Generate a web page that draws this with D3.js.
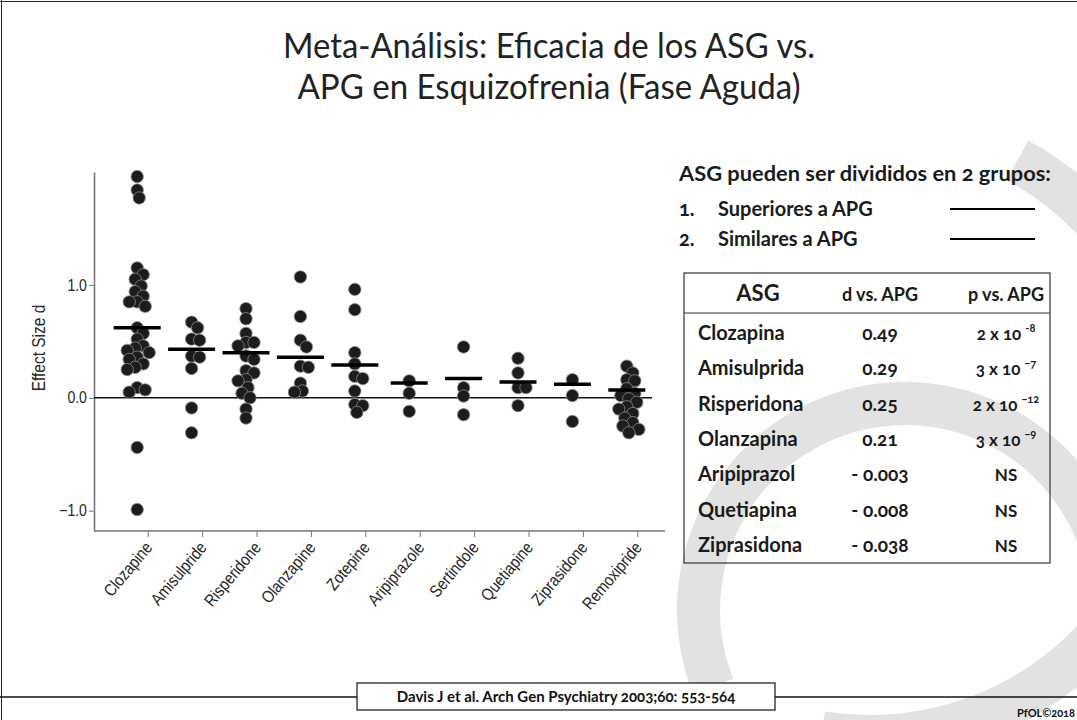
<!DOCTYPE html>
<html>
<head>
<meta charset="utf-8">
<script src="https://cdn.jsdelivr.net/npm/d3@7"></script>
<style>
  body { margin: 0; background: #fff; }
  svg { display: block; font-family: Lato, "Open Sans", sans-serif; font-variant-numeric: oldstyle-nums; }
  .eje text, text.eje { font-family: "Liberation Sans", Arial, sans-serif; font-variant-numeric: normal; fill: #262626; }
  .eje line, .eje path { stroke: #777; }
</style>
</head>
<body>
<svg id="slide" width="1077" height="720"></svg>
<script>
// datos (Davis 2003)
const farmacos = ["Clozapine", "Amisulpride", "Risperidone", "Olanzapine", "Zotepine",
                  "Aripiprazole", "Sertindole", "Quetiapine", "Ziprasidone", "Remoxipride"];
const grupo = [1, 1, 1, 1, 1, 2, 2, 2, 2, 2];

const clozapine = [1.96, 1.84, 1.77, 1.15, 1.09, 1.05, 0.99, 0.94, 0.90, 0.85, 0.85, 0.81,
                   0.62, 0.57, 0.52, 0.46, 0.44, 0.42, 0.40, 0.36, 0.34, 0.30, 0.27, 0.25,
                   0.09, 0.07, 0.05, -0.44, -0.99];
const amisulpride = [0.67, 0.62, 0.52, 0.51, 0.37, 0.36, 0.26, -0.09, -0.31];
const risperidone = [0.79, 0.70, 0.57, 0.49, 0.49, 0.46, 0.37, 0.34, 0.24, 0.22, 0.16, 0.15,
                     0.09, 0.04, 0.0, -0.10, -0.18];
const olanzapine = [1.07, 0.72, 0.51, 0.45, 0.28, 0.27, 0.13, 0.06, 0.05];
const zotepine = [0.96, 0.78, 0.40, 0.30, 0.19, 0.17, 0.06, -0.06, -0.07, -0.13];
const aripiprazole = [0.15, 0.04, -0.12];
const sertindole = [0.45, 0.09, 0.015, -0.15];
const quetiapine = [0.35, 0.22, 0.09, 0.09, -0.07];
const ziprasidone = [0.16, 0.02, -0.21];
const remoxipride = [0.28, 0.22, 0.16, 0.15, 0.08, 0.04, 0.02, -0.01, -0.04, -0.08, -0.10,
                     -0.14, -0.18, -0.22, -0.25, -0.28, -0.31];
const efectos = [clozapine, amisulpride, risperidone, olanzapine, zotepine,
                 aripiprazole, sertindole, quetiapine, ziprasidone, remoxipride];
const medias = [0.62, 0.43, 0.40, 0.36, 0.29, 0.13, 0.17, 0.14, 0.12, 0.07];
const yTicks = [-1, 0, 1];

const tablaCab = ["ASG", "d vs. APG", "p vs. APG"];
const tablaASG = ["Clozapina", "Amisulprida", "Risperidona", "Olanzapina", "Aripiprazol", "Quetiapina", "Ziprasidona"];
const tablaD = ["0.49", "0.29", "0.25", "0.21", "- 0.003", "- 0.008", "- 0.038"];
const tablaP = ["2 x 10", "3 x 10", "2 x 10", "3 x 10", "NS", "NS", "NS"];
const tablaExp = ["-8", "\u22127", "\u221212", "\u22129", "", "", ""];

const svg = d3.select("#slide");
svg.append("rect").attr("width", 1077).attr("height", 720).attr("fill", "#fff");

// marca de agua (C gris)
const wm = svg.append("g").attr("fill", "#e2e2e2");
wm.append("path")
  .attr("transform", "translate(905,610)")
  .attr("d", d3.arc()({innerRadius: 185, outerRadius: 228, startAngle: -1.95, endAngle: 2.0}));
wm.append("path")
  .attr("transform", "translate(870,430)")
  .attr("d", d3.arc()({innerRadius: 285, outerRadius: 330, startAngle: 0.5, endAngle: 3.3}));

// marco de la diapositiva
svg.append("line").attr("x1", 1.5).attr("x2", 1.5).attr("y1", 0).attr("y2", 720).attr("stroke", "#222");
svg.append("line").attr("x1", 0).attr("x2", 1077).attr("y1", 1.5).attr("y2", 1.5).attr("stroke", "#222");

// titulo
const titulo = svg.append("text").attr("text-anchor", "middle").attr("fill", "#222")
  .attr("font-size", 35);
titulo.append("tspan").attr("x", 549).attr("y", 58)
  .attr("textLength", 532).attr("lengthAdjust", "spacingAndGlyphs")
  .text("Meta-Análisis: Eficacia de los ASG vs.");
titulo.append("tspan").attr("x", 549).attr("y", 99)
  .attr("textLength", 503).attr("lengthAdjust", "spacingAndGlyphs")
  .text("APG en Esquizofrenia (Fase Aguda)");

// grafico
const y = d3.scaleLinear().domain([-1.18, 2.0]).range([531, 172]);
const x = d3.scaleBand().domain(farmacos).range([121, 665]);
const centro = d => x(d) + x.bandwidth() / 2 - 11;

const ejeY = svg.append("g").attr("class", "eje").attr("transform", "translate(94,0)")
  .call(d3.axisLeft(y).tickValues(yTicks).tickFormat(d3.format(".1f")).tickSize(5).tickSizeOuter(0));
ejeY.selectAll("text").attr("font-size", 16).attr("transform", "scale(0.88,1)");
ejeY.select(".domain").attr("stroke-width", 1.6);

const ejeX = svg.append("g").attr("class", "eje").attr("transform", "translate(0,531)")
  .call(d3.axisBottom(x).tickSize(6).tickSizeOuter(0));
ejeX.select(".domain").remove();
ejeX.append("line").attr("x1", 94).attr("x2", 665).attr("stroke", "#777").attr("stroke-width", 1.6);
ejeX.selectAll("text")
  .attr("font-size", 17)
  .attr("x", 0).attr("y", 0).attr("dy", 0)
  .attr("text-anchor", "end")
  .attr("transform", "translate(5,17) rotate(-50) scale(0.86,1)");

svg.append("text").attr("class", "eje")
  .attr("transform", "translate(45,348) rotate(-90) scale(0.86,1)")
  .attr("text-anchor", "middle")
  .attr("font-size", 18)
  .text("Effect Size d");

// linea del cero
svg.append("line").attr("x1", 94).attr("x2", 652).attr("y1", y(0)).attr("y2", y(0))
  .attr("stroke", "#111").attr("stroke-width", 1.6);

// puntos tipo enjambre
function enjambre(vals) {
  const puestos = [];
  return vals.slice().sort((a, b) => b - a).map(v => {
    const py = y(v);
    let off = 0;
    for (let k = 0; k <= 7; k++) {
      const cands = k === 0 ? [0] : [k * 2, -k * 2];
      const ok = cands.find(c => puestos.every(p => Math.hypot(p.dx - c, p.py - py) >= 8));
      if (ok !== undefined) { off = ok; break; }
      off = cands[0];
    }
    const p = {v, py, dx: off};
    puestos.push(p);
    return p;
  });
}

farmacos.forEach((f, i) => {
  svg.append("g").selectAll("circle")
    .data(enjambre(efectos[i]))
    .enter().append("circle")
    .attr("cx", d => centro(f) + d.dx)
    .attr("cy", d => y(d.v))
    .attr("r", 6.2)
    .attr("fill", "#1c1c1c")
    .attr("stroke", "#8a8a8a")
    .attr("stroke-width", 0.8);
});

svg.append("g").selectAll("line")
  .data(farmacos)
  .enter().append("line")
  .attr("x1", (d, i) => centro(d) - (grupo[i] === 1 ? 23.5 : 18.5))
  .attr("x2", (d, i) => centro(d) + (grupo[i] === 1 ? 23.5 : 18.5))
  .attr("y1", (d, i) => y(medias[i]))
  .attr("y2", (d, i) => y(medias[i]))
  .attr("stroke", "#000")
  .attr("stroke-width", 3.5);

// leyenda
const ley = svg.append("g").attr("font-weight", "bold").attr("fill", "#1a1a1a").attr("font-size", 20);
ley.append("text").attr("x", 679).attr("y", 181).attr("textLength", 372).attr("lengthAdjust", "spacingAndGlyphs")
  .text("ASG pueden ser divididos en 2 grupos:");
["Superiores a APG", "Similares a APG"].forEach((t, i) => {
  const yy = 216 + i * 30;
  ley.append("text").attr("x", 679).attr("y", yy).text((i + 1) + ".");
  ley.append("text").attr("x", 718).attr("y", yy).text(t);
  ley.append("line").attr("x1", 950).attr("x2", 1035).attr("y1", yy - 7).attr("y2", yy - 7)
    .attr("stroke", "#000").attr("stroke-width", 2);
});

// tabla
const tb = svg.append("g").attr("font-weight", "bold").attr("fill", "#1a1a1a");
tb.append("rect").attr("x", 684).attr("y", 273).attr("width", 366).attr("height", 290)
  .attr("fill", "none").attr("stroke", "#333").attr("stroke-width", 1.2);
tb.append("line").attr("x1", 684).attr("x2", 1050).attr("y1", 313).attr("y2", 313)
  .attr("stroke", "#333").attr("stroke-width", 1.2);
const colX = [758, 880, 1006];
tablaCab.forEach((t, i) => {
  tb.append("text").attr("x", colX[i]).attr("y", 301).attr("text-anchor", "middle")
    .attr("font-size", i === 0 ? 22 : 18).text(t);
});
tablaASG.forEach((t, i) => {
  const yy = 340 + i * 35.3;
  tb.append("text").attr("x", 698).attr("y", yy).attr("font-size", 20).text(t);
  tb.append("text").attr("x", 880).attr("y", yy).attr("text-anchor", "middle").attr("font-size", 19).text(tablaD[i]);
  const p = tb.append("text").attr("x", 1006).attr("y", yy).attr("text-anchor", "middle").attr("font-size", 17);
  p.append("tspan").text(tablaP[i]);
  if (tablaExp[i]) p.append("tspan").attr("dx", 4).attr("dy", -8).attr("font-size", 11).text(tablaExp[i]);
});

// pie
svg.append("line").attr("x1", 0).attr("x2", 1077).attr("y1", 697).attr("y2", 697).attr("stroke", "#111").attr("stroke-width", 1.5);
svg.append("rect").attr("x", 357).attr("y", 683).attr("width", 418).attr("height", 27)
  .attr("fill", "#fff").attr("stroke", "#111").attr("stroke-width", 1.2);
svg.append("text").attr("x", 566).attr("y", 702).attr("text-anchor", "middle")
  .attr("font-weight", "bold").attr("font-size", 15).attr("fill", "#111")
  .text("Davis J et al. Arch Gen Psychiatry 2003;60: 553-564");
svg.append("text").attr("x", 1075).attr("y", 717).attr("text-anchor", "end")
  .attr("font-weight", "bold").attr("font-size", 11).attr("fill", "#111").text("PfOL©2018");
</script>
</body>
</html>
